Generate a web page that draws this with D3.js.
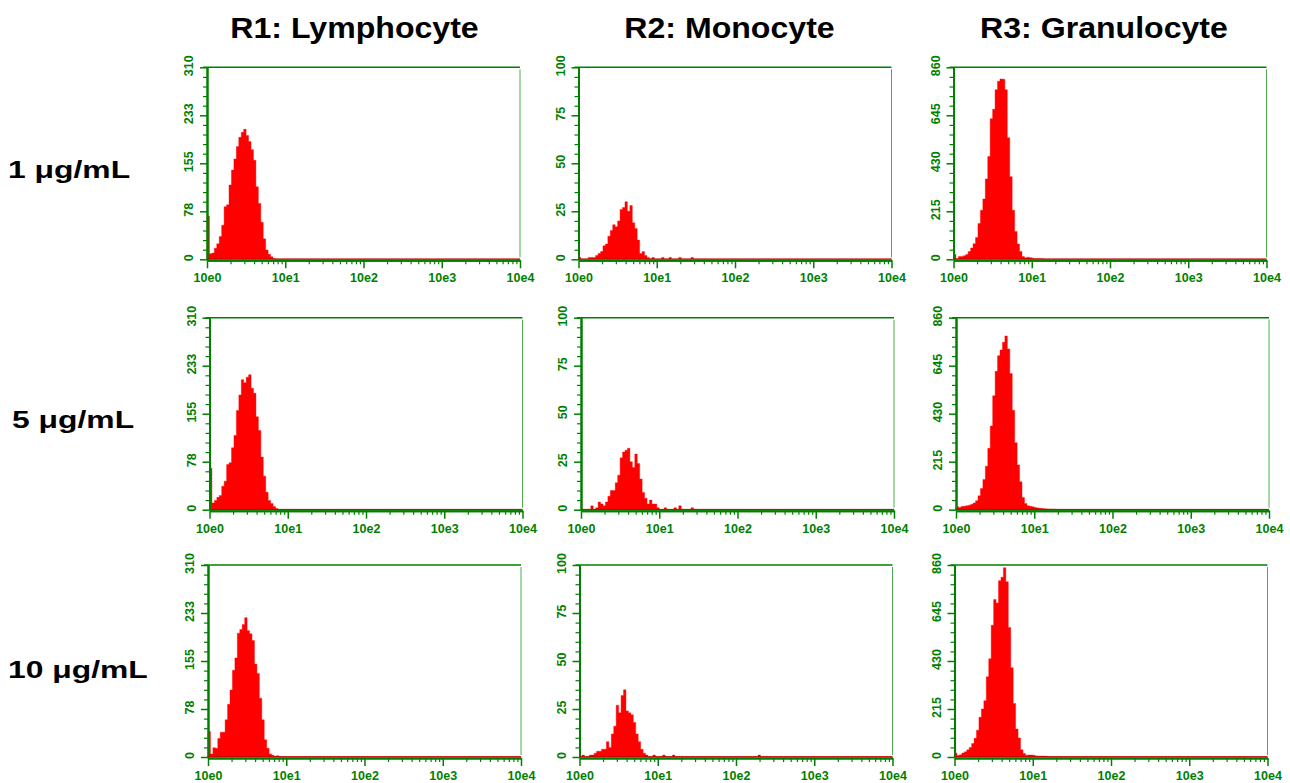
<!DOCTYPE html>
<html><head><meta charset="utf-8">
<script src="https://cdn.jsdelivr.net/npm/d3@7"></script>
<style>body{margin:0;background:#fff}svg{display:block}</style>
</head><body><svg id="c" width="1290" height="783"></svg>
<script>
// ---------- data ----------
const columnTitles = ["R1: Lymphocyte", "R2: Monocyte", "R3: Granulocyte"];
const rowLabels = ["1 \u03bcg/mL", "5 \u03bcg/mL", "10 \u03bcg/mL"];
const yMax = [310, 100, 860];
const yTickLabels = [["0","78","155","233","310"], ["0","25","50","75","100"], ["0","215","430","645","860"]];
const xTickValues = [1, 10, 100, 1000, 10000];
const xTickLabels = ["10e0", "10e1", "10e2", "10e3", "10e4"];
const channelsPerDecade = 32;

// counts per channel, starting at 10e0 (each channel = 1/32 decade)
const lymph1  = [70,9,10,18,25,37,55,85,88,120,144,162,182,197,205,210,200,190,177,160,117,90,60,33,15,8,4,1];
const lymph5  = [67,11,15,20,23,38,46,73,76,100,120,160,185,210,205,214,218,196,188,150,128,85,54,28,15,10,5,2];
const lymph10 = [41,5,15,14,30,40,40,60,85,108,140,160,200,206,214,225,204,199,188,150,135,95,60,28,14,5,3,1,2];
const mono1   = [1,0,0,0,1,1,1,2,3,4,7,8,12,15,18,17,20,26,27,30,25,28,19,16,10,3,4,2,1,0,1,0,0,0,1,0,0,1,0,0,0,1,0,0,0,0,1];
const mono5   = [0,0,0,0,2,0,1,4,3,2,4,7,10,10,14,18,27,30,31,32,25,22,29,24,16,9,6,3,5,3,3,1,0,0,1,0,0,0,1,0,2,0,0,0,0,1];
const mono10  = [0,1,0,0,1,1,2,3,3,4,4,8,5,12,16,27,23,32,35,24,23,22,18,12,8,4,2,1,0,0,1,0,0,0,1,0,0,0,1];
const mono10Far = [[73, 1]];
const gran1   = [22,3,12,13,16,22,35,51,70,98,160,220,270,360,460,630,672,760,798,808,806,760,545,370,220,125,68,35,12,7,9,7,5,3,3,3,2];
const gran5   = [14,10,14,16,18,20,24,30,40,62,95,135,195,275,375,510,620,690,715,750,778,720,610,445,300,200,125,55,28,18,15,13,10,8,6,5,4,3,3,2,2];
const gran10  = [18,7,10,18,23,32,43,60,84,120,178,215,252,360,440,590,705,690,790,805,848,785,580,400,240,125,85,32,16,8,9,9,8,5,4,4,4,3];

// ---------- layout ----------
const green = "#008000";
const font = "'Liberation Sans', Arial, sans-serif";
const panelLeft = [207, 578.5, 953.5];
const rowShift = [0, 2.5, 1];
const panelTop = [67.3, 317.7, 565];
const W = 313, H = 192;

function withFar(arr, far) {
  const out = arr.slice();
  (far || []).forEach(([ch, v]) => { while (out.length <= ch) out.push(0); out[ch] = v; });
  return out;
}
const grid = [
  [lymph1, mono1, gran1],
  [lymph5, mono5, gran5],
  [lymph10, withFar(mono10, mono10Far), gran10]
];

const svg = d3.select("#c");

// column titles
const titleX = [354.5, 729.5, 1104];
columnTitles.forEach((t, c) => {
  svg.append("text")
    .attr("transform", `translate(${titleX[c]},37.5) scale(1.07,1)`)
    .attr("text-anchor", "middle")
    .style("font-family", font).style("font-weight", "bold").style("font-size", "30px")
    .attr("fill", "#000").text(t);
});

// row labels
const rowLabelX = [8, 12, 8];
const rowLabelY = [178, 428, 678];
rowLabels.forEach((t, r) => {
  svg.append("text")
    .attr("transform", `translate(${rowLabelX[r]},${rowLabelY[r]}) scale(1.3,1)`)
    .style("font-family", font).style("font-weight", "bold").style("font-size", "24.5px")
    .attr("fill", "#000").text(t);
});

function styleAxis(sel, width) {
  sel.select(".domain").attr("stroke", green).attr("stroke-width", 2);
  sel.selectAll(".tick line").attr("stroke", green).attr("stroke-width", width);
  sel.selectAll(".tick text").attr("fill", green).style("font-family", font)
    .style("font-size", "12.5px").style("font-weight", "bold");
}

function drawPanel(r, c) {
  const left = panelLeft[c] + rowShift[r], top = panelTop[r];
  const bottom = top + H, right = left + W;
  const x = d3.scaleLog().domain([1, 1e4]).range([left, right]);
  const y = d3.scaleLinear().domain([0, yMax[c]]).range([bottom, top]);
  const g = svg.append("g");

  // histogram
  const counts = grid[r][c];
  const pts = counts.map((v, i) => ({ e: Math.pow(10, i / channelsPerDecade), v }));
  pts.push({ e: Math.pow(10, counts.length / channelsPerDecade), v: 0 });
  pts.push({ e: 1e4, v: 0 });
  g.append("path").datum(pts)
    .attr("d", d3.area().x(d => x(d.e)).y0(bottom).y1(d => y(d.v)).curve(d3.curveStepAfter))
    .attr("fill", "#ff0000").attr("stroke", "#ff0000").attr("stroke-width", 0.4);

  // frame top & right
  g.append("line").attr("x1", left - 4).attr("x2", right).attr("y1", top).attr("y2", top)
    .attr("stroke", green).attr("stroke-width", 1.5);
  g.append("line").attr("x1", right).attr("x2", right).attr("y1", top + 2).attr("y2", bottom - 2)
    .attr("stroke", "#4caf4c").attr("stroke-width", 1);

  // y axis
  const yTicks = d3.range(21).map(i => yMax[c] * i / 20);
  const yMinor = g.append("g").attr("transform", `translate(${left},0)`)
    .call(d3.axisLeft(y).tickValues(yTicks.filter((d, i) => i % 5 !== 0)).tickSize(4).tickSizeOuter(0).tickFormat(""));
  styleAxis(yMinor, 1.2);
  const yMajor = g.append("g").attr("transform", `translate(${left},0)`)
    .call(d3.axisLeft(y).tickValues(yTicks.filter((d, i) => i % 5 === 0)).tickSize(7).tickSizeOuter(0)
      .tickFormat((d, i) => yTickLabels[c][i]));
  styleAxis(yMajor, 1.5);
  yMajor.selectAll(".tick text")
    .attr("x", 0).attr("dy", 0).attr("text-anchor", "middle")
    .attr("transform", "translate(-14,-2) rotate(-90)");

  // x axis
  const xMinorVals = [];
  for (let d = 0; d < 4; d++) for (let k = 2; k <= 9; k++) xMinorVals.push(k * Math.pow(10, d));
  const xMinor = g.append("g").attr("transform", `translate(0,${bottom + 1})`)
    .call(d3.axisBottom(x).tickValues(xMinorVals).tickSize(4).tickSizeOuter(0).tickFormat(""));
  styleAxis(xMinor, 1.2);
  const xMajor = g.append("g").attr("transform", `translate(0,${bottom + 1})`)
    .call(d3.axisBottom(x).tickValues(xTickValues).tickSize(8).tickSizeOuter(0).tickPadding(5)
      .tickFormat((d, i) => xTickLabels[i]));
  styleAxis(xMajor, 1.5);

  // red baseline of histogram
  g.append("line").attr("x1", left).attr("x2", right).attr("y1", bottom - 0.3).attr("y2", bottom - 0.3)
    .attr("stroke", "#c00000").attr("stroke-width", 1);
}

for (let r = 0; r < 3; r++) for (let c = 0; c < 3; c++) drawPanel(r, c);
</script>
</body></html>
